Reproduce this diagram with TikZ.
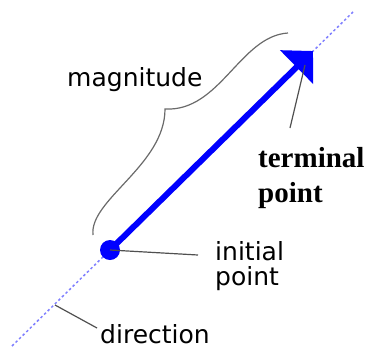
\documentclass[tikz,border=0pt]{standalone}
\usepackage{fontspec}
\setmainfont{DejaVu Sans}
\newfontfamily\labelserif{Liberation Serif}
\usetikzlibrary{arrows.meta}
\definecolor{vecBlue}{HTML}{0000FF}
\definecolor{guideBlue}{HTML}{8080FF}
\definecolor{leaderGray}{HTML}{505050}

\begin{document}
\begin{tikzpicture}[
    x=1pt,y=-1pt,
    every node/.style={font=\fontsize{25}{25}\selectfont,inner sep=0pt},
    shaft/.style={vecBlue,line width=6pt,-{Triangle[length=23pt,width=46pt]}},
    guide/.style={guideBlue,line width=1.5pt,dash pattern=on 2.5pt off 2.5pt},
    leader/.style={leaderGray,line width=1.2pt},
    bracket/.style={leaderGray!85,line width=1.2pt},
    boldlabel/.style={font=\labelserif\bfseries\fontsize{29}{35}\selectfont}
  ]
  \useasboundingbox (0,0) rectangle (369,349);
  %% the line of action and the vector on it
  \coordinate (lowend) at (12,346);
  \coordinate (highend) at (353,12);
  \coordinate (tip) at (313,51);
  \draw[guide] (lowend) -- (highend);
  \node[circle,fill=vecBlue,minimum size=20pt] (start) at (110,250) {};
  \draw[shaft] (start.center) -- (tip);
  %% labels
  \node[anchor=base west] (magn) at (67,86) {magnitude};
  \node[boldlabel,anchor=base west,align=left] (termlbl) at (258,202) {terminal\\point};
  \node[anchor=base west,align=left] (initlbl) at (215,285) {initial\\point};
  \node[anchor=base west] (dirlbl) at (100,343) {direction};
  %% leaders
  \coordinate (termfoot) at (290,128);
  \coordinate (termhead) at (305,65);
  \coordinate (initfoot) at (198,255);
  \coordinate (dirfoot) at (97,328);
  \coordinate (dirhead) at (55,305);
  \draw[leader] (termfoot) -- (termhead);
  \draw[leader] (initfoot) -- (start.center);
  \draw[leader] (dirfoot) -- (dirhead);
  %% hand-drawn brace over the vector
  \draw[bracket] (93,235) .. controls (89,200) and (165,165) .. (165,109)
                 .. controls (220,112) and (240,36) .. (288,33);
\end{tikzpicture}
\end{document}
